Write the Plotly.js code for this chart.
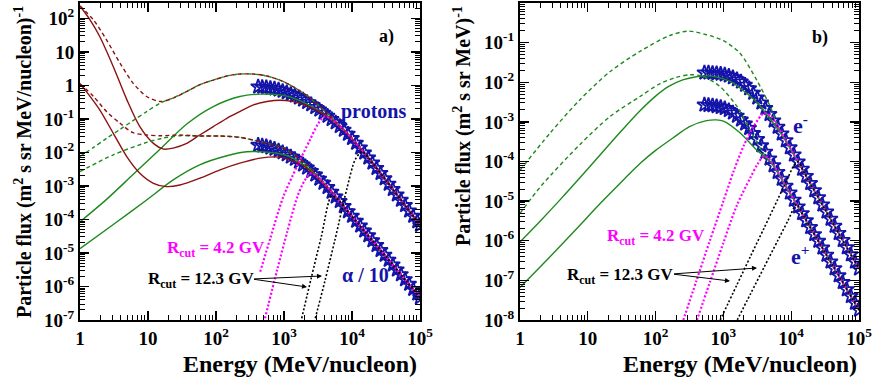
<!DOCTYPE html>
<html><head><meta charset="utf-8">
<script src="https://cdn.plot.ly/plotly-3.0.1.min.js"></script>
<style>html,body{margin:0;padding:0;background:#fff}#chart{width:873px;height:379px}</style>
</head><body><div id="chart"></div>
<script>
// ---------- Panel a) : protons and alpha/10 ----------
const dataLogEnergyA = [2.62,2.68,2.74,2.80,2.86,2.92,2.98,3.04,3.10,3.16,3.22,3.28,3.34,3.40,3.46,3.52,3.58,3.64,3.70,3.76,3.82,3.88,3.94,4.00,4.06,4.12,4.18,4.24,4.30,4.36,4.42,4.48,4.54,4.60,4.66,4.72,4.78,4.84,4.90,4.96,5.00];
const protonDataLogFlux = [-0.04,-0.05,-0.06,-0.08,-0.10,-0.13,-0.17,-0.21,-0.26,-0.31,-0.37,-0.43,-0.50,-0.57,-0.65,-0.73,-0.82,-0.91,-1.01,-1.11,-1.22,-1.33,-1.45,-1.58,-1.72,-1.86,-2.01,-2.16,-2.31,-2.47,-2.62,-2.78,-2.94,-3.10,-3.26,-3.42,-3.58,-3.74,-3.90,-4.06,-4.17];
const alphaDataLogFlux = [-1.78,-1.80,-1.82,-1.86,-1.90,-1.95,-2.00,-2.06,-2.13,-2.20,-2.28,-2.37,-2.46,-2.56,-2.67,-2.79,-2.91,-3.04,-3.18,-3.32,-3.46,-3.61,-3.76,-3.90,-4.05,-4.19,-4.34,-4.48,-4.63,-4.77,-4.92,-5.06,-5.21,-5.35,-5.50,-5.64,-5.79,-5.93,-6.08,-6.22,-6.33];

const pRedDashE = [0.0,0.2,0.39,0.59,0.78,0.98,1.18,1.37,1.57,1.76,1.96,2.16,2.35,2.55,2.75,2.94,3.1,3.3,3.5,3.7,3.9,4.2,4.5,4.8,5.0];
const pRedDashF = [2.37,1.95,1.36,0.66,0.07,-0.33,-0.48,-0.38,-0.18,0.02,0.16,0.28,0.34,0.34,0.28,0.16,0.0,-0.25,-0.58,-0.96,-1.36,-2.06,-2.83,-3.63,-4.17];
const pGreenDashE = [0.0,0.2,0.39,0.59,0.78,0.98,1.18,1.37,1.57,1.76,1.96,2.16,2.35,2.55,2.75,2.94,3.1,3.3,3.5,3.7,3.9,4.2,4.5,4.8,5.0];
const pGreenDashF = [-2.12,-1.85,-1.58,-1.31,-1.05,-0.78,-0.53,-0.37,-0.18,0.02,0.16,0.28,0.34,0.34,0.28,0.16,0.0,-0.25,-0.58,-0.96,-1.36,-2.06,-2.83,-3.63,-4.17];
const pRedSolidE = [0.0,0.15,0.29,0.49,0.69,0.88,1.08,1.23,1.37,1.57,1.76,1.96,2.16,2.35,2.55,2.75,2.94,3.1,3.3,3.5,3.7,3.9,4.2,4.5,4.8,5.0];
const pRedSolidF = [2.37,1.95,1.46,0.56,-0.43,-1.23,-1.73,-1.90,-1.87,-1.73,-1.48,-1.23,-0.98,-0.78,-0.58,-0.48,-0.44,-0.47,-0.58,-0.76,-1.03,-1.38,-2.06,-2.83,-3.63,-4.17];
const pGreenSolidE = [0.0,0.39,0.78,1.18,1.57,1.96,2.35,2.65,2.94,3.1,3.3,3.5,3.7,3.9,4.2,4.5,4.8,5.0];
const pGreenSolidF = [-4.07,-3.40,-2.66,-1.90,-1.15,-0.63,-0.33,-0.26,-0.28,-0.35,-0.52,-0.74,-1.02,-1.37,-2.06,-2.83,-3.63,-4.17];

const aRedDashE = [0.0,0.2,0.39,0.59,0.78,0.98,1.18,1.47,1.76,2.06,2.35,2.65,2.94,3.1,3.3,3.5,3.7,3.9,4.2,4.5,4.8,5.0];
const aRedDashF = [0.05,-0.33,-0.78,-1.13,-1.41,-1.48,-1.50,-1.48,-1.51,-1.51,-1.55,-1.68,-1.83,-2.0,-2.3,-2.71,-3.17,-3.66,-4.39,-5.11,-5.84,-6.33];
const aGreenDashE = [0.0,0.49,0.98,1.2,1.47,1.76,2.06,2.35,2.65,2.94,3.1,3.3,3.5,3.7,3.9,4.2,4.5,4.8,5.0];
const aGreenDashF = [-2.57,-2.07,-1.70,-1.58,-1.50,-1.51,-1.51,-1.55,-1.68,-1.83,-2.0,-2.3,-2.71,-3.17,-3.66,-4.39,-5.11,-5.84,-6.33];
const aRedSolidE = [0.0,0.1,0.29,0.49,0.69,0.88,1.08,1.27,1.47,1.76,2.06,2.35,2.65,2.94,3.1,3.3,3.5,3.7,3.9,4.2,4.5,4.8,5.0];
const aRedSolidF = [0.05,-0.2,-0.73,-1.43,-2.13,-2.62,-2.92,-3.02,-2.97,-2.77,-2.52,-2.32,-2.17,-2.14,-2.22,-2.42,-2.77,-3.19,-3.67,-4.39,-5.11,-5.84,-6.33];
const aGreenSolidE = [0.0,0.49,0.98,1.37,1.76,2.16,2.45,2.75,2.94,3.1,3.3,3.5,3.7,3.9,4.2,4.5,4.8,5.0];
const aGreenSolidF = [-4.87,-4.15,-3.42,-2.82,-2.37,-2.10,-1.98,-1.99,-2.04,-2.14,-2.38,-2.74,-3.18,-3.66,-4.39,-5.11,-5.84,-6.33];

const pCut42E = [2.65,2.8,2.99,3.19,3.38,3.5,3.6,3.7,3.9,4.2,4.5,4.8,5.0];
const pCut42F = [-5.56,-4.55,-3.32,-2.42,-1.63,-1.15,-0.92,-1.01,-1.37,-2.06,-2.83,-3.63,-4.17];
const aCut42E = [2.72,2.9,3.05,3.2,3.3,3.4,3.5,3.7,3.9,4.2,4.5,4.8,5.0];
const aCut42F = [-6.95,-5.5,-4.35,-3.3,-2.85,-2.62,-2.74,-3.18,-3.66,-4.39,-5.11,-5.84,-6.33];
const aCut123E = [3.26,3.4,3.55,3.7,3.8,3.9,4.2,4.5,4.8,5.0];
const aCut123F = [-6.95,-5.75,-4.5,-3.3,-3.42,-3.66,-4.39,-5.11,-5.84,-6.33];
const pCut123E = [3.46,3.6,3.75,3.92,4.05,4.15,4.3,4.5,4.8,5.0];
const pCut123F = [-6.95,-5.85,-4.6,-3.12,-2.2,-1.98,-2.31,-2.83,-3.63,-4.17];

// ---------- Panel b) : electrons and positrons ----------
const dataLogEnergyB = [2.72,2.78,2.84,2.90,2.96,3.02,3.08,3.14,3.20,3.26,3.32,3.38,3.44,3.50,3.56,3.62,3.68,3.74,3.80,3.86,3.92,3.98,4.04,4.10,4.16,4.22,4.28,4.34,4.40,4.46,4.52,4.58,4.64,4.70,4.76,4.82,4.88,4.94,5.00];
const electronDataLogFlux = [-1.76,-1.76,-1.77,-1.78,-1.79,-1.81,-1.84,-1.88,-1.93,-1.99,-2.07,-2.16,-2.27,-2.39,-2.52,-2.66,-2.81,-2.97,-3.13,-3.30,-3.47,-3.65,-3.83,-4.01,-4.19,-4.37,-4.55,-4.73,-4.91,-5.09,-5.27,-5.45,-5.63,-5.81,-5.99,-6.17,-6.35,-6.53,-6.71];
const positronDataLogFlux = [-2.57,-2.58,-2.59,-2.61,-2.63,-2.66,-2.71,-2.77,-2.85,-2.95,-3.05,-3.16,-3.29,-3.44,-3.60,-3.76,-3.93,-4.10,-4.27,-4.44,-4.62,-4.79,-4.97,-5.14,-5.31,-5.49,-5.66,-5.84,-6.01,-6.18,-6.36,-6.53,-6.70,-6.88,-7.05,-7.23,-7.40,-7.57,-7.75];

const eDashE = [0,0.44,0.885,1.33,1.77,2.21,2.48,2.75,3.0,3.24,3.49,3.69,3.83,4.0,4.3,4.6,5.0];
const eDashF = [-4.22,-3.29,-2.44,-1.73,-1.22,-0.82,-0.71,-0.80,-0.95,-1.26,-1.94,-2.61,-3.2,-3.71,-4.61,-5.51,-6.71];
const posDashE = [0,0.32,0.885,1.33,1.77,2.06,2.3,2.51,2.7,2.95,3.2,3.39,3.59,3.75,4.0,4.3,4.6,5.0];
const posDashF = [-5.31,-4.6,-3.57,-2.86,-2.36,-2.04,-1.88,-1.81,-1.85,-2.11,-2.61,-3.2,-3.79,-4.13,-4.85,-5.72,-6.59,-7.75];
const eSolidE = [0,0.3,0.6,0.9,1.2,1.5,1.77,2.0,2.2,2.4,2.6,2.75,2.9,3.1,3.3,3.5,3.7,3.9,4.1,4.3,4.6,5.0];
const eSolidF = [-6.03,-5.5,-4.95,-4.38,-3.8,-3.22,-2.72,-2.35,-2.1,-1.94,-1.86,-1.84,-1.87,-1.98,-2.22,-2.52,-2.95,-3.43,-4.01,-4.61,-5.51,-6.71];
const posSolidE = [0,0.4,0.8,1.2,1.55,1.77,2.0,2.26,2.5,2.75,2.9,3.0,3.24,3.49,3.7,3.9,4.1,4.3,4.6,5.0];
const posSolidF = [-7.18,-6.48,-5.76,-5.03,-4.42,-4.05,-3.72,-3.40,-3.12,-2.97,-2.95,-2.98,-3.27,-3.71,-4.02,-4.57,-5.14,-5.72,-6.59,-7.75];

const eCut42E = [2.37,2.6,2.8,3.0,3.15,3.3,3.45,3.6,3.7,3.9,4.2,4.5,4.8,5.0];
const eCut42F = [-8.2,-7.02,-6.0,-5.0,-4.25,-3.6,-3.1,-2.78,-2.86,-3.41,-4.31,-5.21,-6.11,-6.71];
const posCut42E = [2.57,2.8,3.0,3.2,3.4,3.5,3.6,3.7,3.9,4.2,4.5,4.8,5.0];
const posCut42F = [-8.2,-7.05,-6.05,-5.1,-4.4,-4.08,-3.86,-3.99,-4.56,-5.43,-6.30,-7.17,-7.75];
const eCut123E = [2.9,3.2,3.4,3.6,3.8,3.95,4.03,4.1,4.2,4.5,4.8,5.0];
const eCut123F = [-8.19,-7.11,-6.39,-5.68,-4.96,-4.42,-4.13,-4.01,-4.31,-5.21,-6.11,-6.71];
const posCut123E = [3.15,3.4,3.6,3.8,3.95,4.08,4.15,4.3,4.6,5.0];
const posCut123F = [-8.18,-7.34,-6.67,-6.0,-5.5,-5.08,-5.28,-5.72,-6.59,-7.75];

// tick labels
const xTickLabels = ['1','10','10<sup>2</sup>','10<sup>3</sup>','10<sup>4</sup>','10<sup>5</sup>'];
const yTickLabelsA = ['10<sup>-7</sup>','10<sup>-6</sup>','10<sup>-5</sup>','10<sup>-4</sup>','10<sup>-3</sup>','10<sup>-2</sup>','10<sup>-1</sup>','1','10','10<sup>2</sup>'];
const yTickLabelsB = ['10<sup>-8</sup>','10<sup>-7</sup>','10<sup>-6</sup>','10<sup>-5</sup>','10<sup>-4</sup>','10<sup>-3</sup>','10<sup>-2</sup>','10<sup>-1</sup>','1'];

// ---------- drawing ----------
const W = 873, H = 379;
const FONT = 'Liberation Serif, Times New Roman, serif';
const GREEN = '#1e8a1e', DRED = '#8b1212', MAG = '#ff00ff', BLUE = '#1414a8';
const pow10 = a => a.map(v => Math.pow(10, v));
const fx = p => p / W, fy = p => 1 - p / H;

function curve(E, F, color, dash, width, ax) {
  return {type:'scatter', mode:'lines', x:pow10(E), y:pow10(F),
    xaxis: ax === 1 ? 'x' : 'x2', yaxis: ax === 1 ? 'y' : 'y2',
    line:{color, dash, width, shape:'spline', smoothing:0.8}, hoverinfo:'skip'};
}
function stars(E, F, ax) {
  return {type:'scatter', mode:'markers', x:pow10(E), y:pow10(F),
    xaxis: ax === 1 ? 'x' : 'x2', yaxis: ax === 1 ? 'y' : 'y2',
    marker:{symbol:'star-open', size:11, color:BLUE, line:{width:1.8, color:BLUE}}, hoverinfo:'skip'};
}
const DASH = '4px,3px', DOT = '2px,2px';

const traces = [
  stars(dataLogEnergyA, protonDataLogFlux, 1),
  stars(dataLogEnergyA, alphaDataLogFlux, 1),
  curve(pGreenDashE, pGreenDashF, GREEN, DASH, 1.4, 1),
  curve(pRedDashE, pRedDashF, DRED, DASH, 1.4, 1),
  curve(pGreenSolidE, pGreenSolidF, GREEN, 'solid', 1.4, 1),
  curve(pRedSolidE, pRedSolidF, DRED, 'solid', 1.4, 1),
  curve(aGreenDashE, aGreenDashF, GREEN, DASH, 1.4, 1),
  curve(aRedDashE, aRedDashF, DRED, DASH, 1.4, 1),
  curve(aGreenSolidE, aGreenSolidF, GREEN, 'solid', 1.4, 1),
  curve(aRedSolidE, aRedSolidF, DRED, 'solid', 1.4, 1),
  curve(pCut42E, pCut42F, MAG, DOT, 2.2, 1),
  curve(aCut42E, aCut42F, MAG, DOT, 2.2, 1),
  curve(aCut123E, aCut123F, '#000', DOT, 1.6, 1),
  curve(pCut123E, pCut123F, '#000', DOT, 1.6, 1),

  stars(dataLogEnergyB, electronDataLogFlux, 2),
  stars(dataLogEnergyB, positronDataLogFlux, 2),
  curve(eDashE, eDashF, GREEN, DASH, 1.4, 2),
  curve(posDashE, posDashF, GREEN, DASH, 1.4, 2),
  curve(eSolidE, eSolidF, GREEN, 'solid', 1.4, 2),
  curve(posSolidE, posSolidF, GREEN, 'solid', 1.4, 2),
  curve(eCut42E, eCut42F, MAG, DOT, 2.2, 2),
  curve(posCut42E, posCut42F, MAG, DOT, 2.2, 2),
  curve(eCut123E, eCut123F, '#000', DOT, 1.6, 2),
  curve(posCut123E, posCut123F, '#000', DOT, 1.6, 2)
];

function minorVals(lo, hi) {
  const v = [];
  for (let d = lo; d < hi; d++) for (let m = 2; m <= 9; m++) v.push(m * Math.pow(10, d));
  return v;
}
function majorVals(lo, hi) { const v = []; for (let d = lo; d <= hi; d++) v.push(Math.pow(10, d)); return v; }

const tickFont = {family:FONT, size:19, color:'#000', weight:'bold'};
function axis(extra, lo, hi, labels) {
  return Object.assign({
    type:'log', tickmode:'array', tickvals:majorVals(lo, hi), ticktext:labels,
    ticks:'inside', ticklen:9, tickwidth:1.3, tickcolor:'#000',
    showline:true, linecolor:'#000', linewidth:2, mirror:'allticks',
    showgrid:false, zeroline:false, tickfont:tickFont, fixedrange:true,
    minor:{tickmode:'array', tickvals:minorVals(lo - 1, hi + 1), ticks:'inside', ticklen:5, tickwidth:1, tickcolor:'#000', showgrid:false}
  }, extra);
}
const yDom = [1 - 320 / H, 1 - 3 / H];

const layout = {
  width:W, height:H, margin:{l:0, r:0, t:0, b:0},
  paper_bgcolor:'#fff', plot_bgcolor:'#fff', showlegend:false,
  font:{family:FONT, color:'#000'},
  xaxis: axis({domain:[80 / W, 420 / W], anchor:'y', range:[0, 5]}, 0, 5, xTickLabels),
  yaxis: axis({domain:yDom, anchor:'x', range:[-7, 2.46]}, -7, 2, yTickLabelsA),
  xaxis2: axis({domain:[520 / W, 859 / W], anchor:'y2', range:[0, 5]}, 0, 5, xTickLabels),
  yaxis2: axis({domain:yDom, anchor:'x2', range:[-8, 0]}, -8, 0, yTickLabelsB),
  annotations: []
};

function txt(text, x, y, size, color, opts) {
  layout.annotations.push(Object.assign({text, x:fx(x), y:fy(y), xref:'paper', yref:'paper',
    showarrow:false, font:{family:FONT, size, color, weight:'bold'}, xanchor:'center', yanchor:'middle'}, opts || {}));
}
function arrow(hx, hy, tx, ty) {
  layout.annotations.push({text:' ', x:fx(hx), y:fy(hy), xref:'paper', yref:'paper', showarrow:true,
    ax:tx - hx, ay:ty - hy, axref:'pixel', ayref:'pixel', arrowhead:2, arrowsize:1, arrowwidth:1,
    arrowcolor:'#000', standoff:0, startstandoff:0, font:{size:2}});
}

txt('Particle flux (m<sup>2</sup> s sr MeV/nucleon)<sup>-1</sup>', 23, 4, 20, '#000', {textangle:-90, yanchor:'top'});
txt('Particle flux (m<sup>2</sup> s sr MeV)<sup>-1</sup>', 462, 4, 20, '#000', {textangle:-90, yanchor:'top'});
txt('Energy (MeV/nucleon)', 419, 364, 24, '#000', {xanchor:'right'});
txt('Energy (MeV/nucleon)', 859, 364, 24, '#000', {xanchor:'right'});
txt('a)', 386, 36, 18, '#000');
txt('b)', 820, 38, 18, '#000');
txt('protons', 373, 112, 20, BLUE);
txt('α / 10', 365, 275, 20, BLUE);
txt('e<sup>-</sup>', 800, 124, 22, BLUE);
txt('e<sup>+</sup>', 800, 255, 22, BLUE);
txt('R<sub>cut</sub> = 4.2 GV', 216, 249, 17, MAG);
txt('R<sub>cut</sub> = 4.2 GV', 656, 237, 17, MAG);
txt('R<sub>cut</sub> = 12.3 GV', 201, 280, 17, '#000');
txt('R<sub>cut</sub> = 12.3 GV', 620, 276, 17, '#000');
arrow(322, 276, 252, 279);
arrow(307, 287, 252, 279);
arrow(757, 268, 672, 274);
arrow(730, 281, 672, 274);

Plotly.newPlot('chart', traces, layout, {staticPlot:true, displayModeBar:false});
</script></body></html>
